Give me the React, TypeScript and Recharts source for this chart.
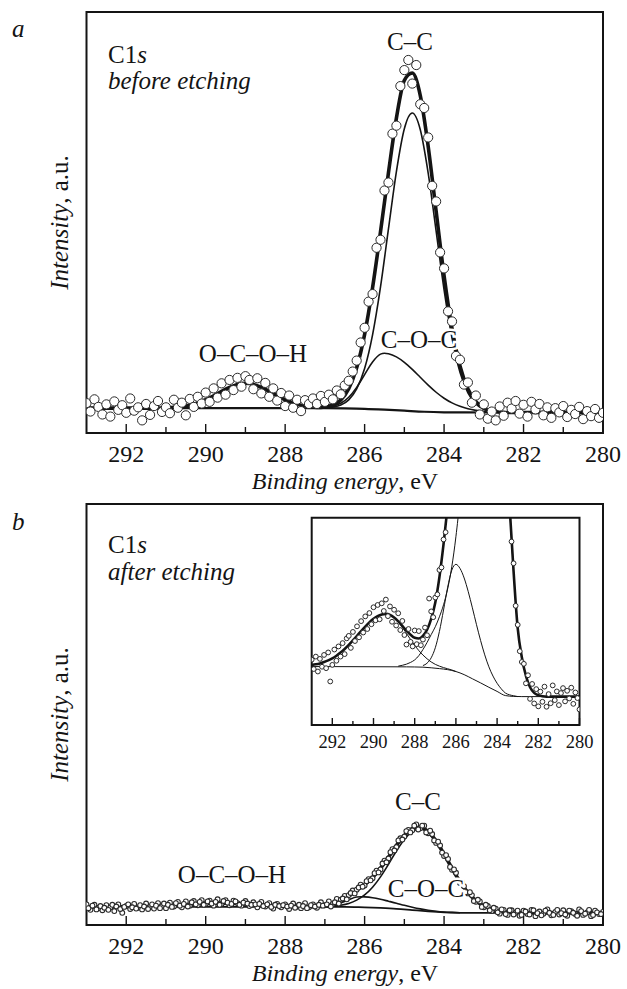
import React from 'react';
import { ComposedChart, Line, Scatter, XAxis, YAxis, ReferenceArea } from 'recharts';

const FONT = '"Liberation Serif","Times New Roman",Times,serif';
const INK = '#141414';

// ---------- axis ticks (binding energy, eV) ----------
const energyTicks = [280, 281, 282, 283, 284, 285, 286, 287, 288, 289, 290, 291, 292];
const energyDomain = [280, 293];

// ---------- shared scan energies (0.1 eV step) ----------
const scanEnergies = [
  293.0, 292.9, 292.8, 292.7, 292.6, 292.5, 292.4, 292.3, 292.2, 292.1,
  292.0, 291.9, 291.8, 291.7, 291.6, 291.5, 291.4, 291.3, 291.2, 291.1,
  291.0, 290.9, 290.8, 290.7, 290.6, 290.5, 290.4, 290.3, 290.2, 290.1,
  290.0, 289.9, 289.8, 289.7, 289.6, 289.5, 289.4, 289.3, 289.2, 289.1,
  289.0, 288.9, 288.8, 288.7, 288.6, 288.5, 288.4, 288.3, 288.2, 288.1,
  288.0, 287.9, 287.8, 287.7, 287.6, 287.5, 287.4, 287.3, 287.2, 287.1,
  287.0, 286.9, 286.8, 286.7, 286.6, 286.5, 286.4, 286.3, 286.2, 286.1,
  286.0, 285.9, 285.8, 285.7, 285.6, 285.5, 285.4, 285.3, 285.2, 285.1,
  285.0, 284.9, 284.8, 284.7, 284.6, 284.5, 284.4, 284.3, 284.2, 284.1,
  284.0, 283.9, 283.8, 283.7, 283.6, 283.5, 283.4, 283.3, 283.2, 283.1,
  283.0, 282.9, 282.8, 282.7, 282.6, 282.5, 282.4, 282.3, 282.2, 282.1,
  282.0, 281.9, 281.8, 281.7, 281.6, 281.5, 281.4, 281.3, 281.2, 281.1,
  281.0, 280.9, 280.8, 280.7, 280.6, 280.5, 280.4, 280.3, 280.2, 280.1,
  280.0,
];
// in-between scan energies used by the dense panel-b scan
const midEnergies = [
  292.95, 292.85, 292.75, 292.65, 292.55, 292.45, 292.35, 292.25, 292.15, 292.05,
  291.95, 291.85, 291.75, 291.65, 291.55, 291.45, 291.35, 291.25, 291.15, 291.05,
  290.95, 290.85, 290.75, 290.65, 290.55, 290.45, 290.35, 290.25, 290.15, 290.05,
  289.95, 289.85, 289.75, 289.65, 289.55, 289.45, 289.35, 289.25, 289.15, 289.05,
  288.95, 288.85, 288.75, 288.65, 288.55, 288.45, 288.35, 288.25, 288.15, 288.05,
  287.95, 287.85, 287.75, 287.65, 287.55, 287.45, 287.35, 287.25, 287.15, 287.05,
  286.95, 286.85, 286.75, 286.65, 286.55, 286.45, 286.35, 286.25, 286.15, 286.05,
  285.95, 285.85, 285.75, 285.65, 285.55, 285.45, 285.35, 285.25, 285.15, 285.05,
  284.95, 284.85, 284.75, 284.65, 284.55, 284.45, 284.35, 284.25, 284.15, 284.05,
  283.95, 283.85, 283.75, 283.65, 283.55, 283.45, 283.35, 283.25, 283.15, 283.05,
  282.95, 282.85, 282.75, 282.65, 282.55, 282.45, 282.35, 282.25, 282.15, 282.05,
  281.95, 281.85, 281.75, 281.65, 281.55, 281.45, 281.35, 281.25, 281.15, 281.05,
  280.95, 280.85, 280.75, 280.65, 280.55, 280.45, 280.35, 280.25, 280.15, 280.05,
];

// ---------- panel a: before etching ----------
const aScanValues = [
  7.1, 5.1, 8.0, 6.2, 4.4, 6.8, 3.9, 7.5, 5.5, 6.6,
  4.8, 8.2, 5.3, 6.1, 3.0, 6.9, 4.3, 6.4, 7.6, 5.0,
  6.1, 4.7, 7.9, 6.0, 7.2, 4.2, 8.1, 6.2, 8.6, 7.0,
  9.6, 7.4, 10.6, 8.4, 11.8, 9.1, 12.6, 10.2, 13.1, 11.0,
  13.5, 12.6, 10.4, 13.0, 9.4, 11.9, 8.6, 10.6, 7.7, 9.5,
  6.4, 8.9, 6.0, 7.9, 5.2, 7.8, 6.9, 8.2, 6.9, 8.8,
  7.4, 9.1, 8.0, 10.1, 9.2, 11.3, 12.4, 14.6, 17.2, 21.5,
  25.0, 31.2, 33.0, 44.0, 45.9, 57.6, 59.5, 71.1, 73.0, 82.4,
  86.2, 88.6, 83.0, 87.4, 78.1, 77.2, 70.2, 58.7, 55.0, 42.9,
  39.1, 28.9, 26.5, 18.3, 17.4, 11.5, 12.0, 7.2, 8.9, 4.4,
  6.8, 3.4, 5.1, 3.0, 6.3, 4.1, 7.2, 5.8, 7.6, 4.6,
  6.7, 3.9, 7.4, 5.6, 6.9, 4.2, 6.1, 3.6, 5.9, 4.9,
  6.4, 3.8, 5.5, 4.5, 6.2, 3.3, 5.2, 4.0, 5.7, 3.6,
  4.8,
];
const aEnvelope = [
  [293.0, 5.9], [291.2, 5.9], [291.0, 5.98], [290.8, 6.08], [290.6, 6.27], [290.4, 6.61], [290.2, 7.14],
  [290.0, 7.9], [289.8, 8.85], [289.6, 9.9], [289.4, 10.86], [289.2, 11.55], [289.0, 11.8], [288.8, 11.55],
  [288.6, 10.86], [288.4, 9.9], [288.2, 8.85], [288.0, 7.9], [287.8, 7.14], [287.6, 6.61], [287.4, 6.27],
  [287.2, 6.08], [287.0, 6.21], [286.8, 6.65], [286.6, 7.83], [286.4, 10.53], [286.2, 15.5], [286.0, 23.44],
  [285.8, 34.5], [285.6, 47.83], [285.4, 61.8], [285.2, 74.79], [285.0, 83.76], [284.8, 85.5], [284.6, 80.21],
  [284.4, 68.08], [284.2, 52.66], [284.0, 37.36], [283.8, 24.78], [283.6, 15.9], [283.4, 10.43], [283.2, 7.43],
  [283.0, 5.92], [282.8, 5.29], [282.6, 5.0], [282.4, 4.86], [280.0, 4.85],
];
const aBackground = [
  [293.0, 5.9], [287.0, 5.9], [286.5, 5.85], [286.0, 5.75], [285.5, 5.55], [285.0, 5.3], [284.5, 5.05],
  [284.0, 4.92], [283.5, 4.88], [280.0, 4.85],
];
const aOCOH = [
  [291.2, 5.92], [291.0, 5.98], [290.8, 6.08], [290.6, 6.27], [290.4, 6.61], [290.2, 7.14], [290.0, 7.9],
  [289.8, 8.85], [289.6, 9.9], [289.4, 10.86], [289.2, 11.55], [289.0, 11.8], [288.8, 11.55], [288.6, 10.86],
  [288.4, 9.9], [288.2, 8.85], [288.0, 7.9], [287.8, 7.14], [287.6, 6.61], [287.4, 6.27], [287.2, 6.08],
  [287.0, 5.98], [286.8, 5.92],
];
const aCOC = [
  [287.0, 6.05], [286.8, 6.34], [286.6, 7.05], [286.4, 8.48], [286.2, 10.83], [286.0, 13.88], [285.8, 16.87],
  [285.6, 18.73], [285.5, 18.95], [285.4, 18.82], [285.2, 18.08], [285.0, 16.78], [284.8, 15.1], [284.6, 13.23],
  [284.4, 11.37], [284.2, 9.68], [284.0, 8.26], [283.8, 7.15], [283.6, 6.34], [283.4, 5.76], [283.2, 5.38],
  [283.0, 5.14], [282.8, 5.01], [282.6, 4.92], [282.4, 4.87],
];
const aCC = [
  [287.0, 5.98], [286.8, 6.16], [286.6, 6.64], [286.4, 7.88], [286.2, 10.47], [286.0, 15.31], [285.8, 23.31],
  [285.6, 34.7], [285.4, 48.48], [285.2, 62.11], [285.0, 72.28], [284.8, 76.0], [284.6, 72.08], [284.4, 61.73],
  [284.2, 47.94], [284.0, 34.02], [283.8, 22.53], [283.6, 14.45], [283.4, 9.55], [283.2, 6.92], [283.0, 5.64],
  [282.8, 5.14], [282.6, 4.93],
];

// ---------- panel b: after etching ----------
const bScanValues = [
  4.9, 3.6, 4.8, 4.0, 3.5, 4.7, 4.2, 3.3, 4.9, 2.9,
  4.5, 3.8, 5.0, 4.1, 3.7, 5.1, 4.3, 3.9, 5.2, 4.5,
  4.0, 5.3, 4.4, 5.5, 4.2, 5.6, 4.6, 5.7, 4.7, 5.9,
  5.0, 5.8, 4.6, 6.1, 5.0, 5.9, 4.7, 5.8, 5.2, 4.6,
  5.7, 4.5, 5.4, 4.2, 5.5, 4.4, 5.2, 3.9, 5.0, 4.2,
  4.9, 3.8, 5.1, 4.4, 4.0, 5.2, 4.2, 4.9, 4.1, 5.4,
  4.7, 5.6, 5.0, 6.2, 6.0, 6.9, 7.1, 8.2, 8.4, 9.6,
  9.4, 10.9, 11.1, 12.9, 13.2, 15.3, 15.8, 18.0, 18.5, 20.6,
  21.0, 22.6, 22.5, 23.9, 23.0, 23.6, 21.8, 21.6, 19.5, 18.9,
  16.4, 15.7, 13.1, 12.4, 10.0, 9.2, 7.5, 7.1, 5.5, 5.6,
  4.2, 4.5, 3.3, 3.9, 2.7, 3.6, 2.4, 3.5, 2.9, 2.2,
  3.4, 2.6, 3.6, 2.1, 3.2, 2.7, 3.7, 2.3, 3.1, 2.5,
  3.5, 2.2, 3.3, 2.6, 3.7, 2.4, 3.0, 2.1, 3.4, 2.6,
  3.1,
];
const bScanMidValues = [
  4.0, 4.6, 3.7, 4.5, 4.1, 3.6, 4.8, 4.4, 3.8, 4.3,
  4.9, 4.2, 3.9, 4.7, 4.4, 3.8, 4.9, 4.6, 4.0, 5.1,
  4.8, 4.3, 5.2, 4.6, 5.0, 4.4, 5.4, 4.9, 5.5, 4.8,
  5.6, 5.1, 5.5, 4.8, 5.7, 5.3, 5.0, 5.6, 4.8, 5.3,
  5.1, 4.8, 4.9, 5.0, 4.5, 4.9, 4.3, 4.8, 4.5, 4.7,
  4.4, 4.6, 4.1, 4.8, 4.5, 4.0, 4.7, 4.4, 4.8, 4.6,
  4.9, 4.4, 5.4, 5.1, 6.3, 6.1, 7.6, 7.5, 8.9, 9.1,
  10.4, 10.6, 12.3, 12.5, 14.6, 14.9, 17.3, 17.7, 20.1, 20.3,
  22.3, 22.0, 23.6, 22.7, 23.6, 22.0, 22.4, 20.1, 19.8, 17.2,
  16.6, 13.8, 13.2, 10.6, 10.2, 7.8, 7.8, 5.7, 6.0, 4.3,
  4.8, 3.5, 4.1, 3.0, 3.7, 2.6, 3.5, 2.5, 3.4, 2.4,
  3.2, 2.5, 3.5, 2.8, 2.3, 3.4, 2.9, 2.4, 3.6, 2.8,
  2.5, 3.4, 2.9, 2.2, 3.3, 2.7, 3.6, 2.4, 3.0, 2.6,
];
const bEnvelope = [
  [293.0, 4.3], [292.6, 4.3], [292.2, 4.31], [291.8, 4.35], [291.4, 4.42], [291.0, 4.57], [290.6, 4.79],
  [290.2, 5.02], [289.8, 5.18], [289.4, 5.18], [289.0, 5.02], [288.6, 4.79], [288.2, 4.57], [287.8, 4.42],
  [287.4, 4.35], [287.0, 4.48], [286.8, 4.83], [286.6, 5.61], [286.4, 6.86], [286.2, 8.3], [286.0, 9.61],
  [285.8, 11.31], [285.6, 13.5], [285.4, 16.11], [285.2, 18.9], [285.0, 21.3], [284.8, 22.88], [284.6, 23.23],
  [284.4, 22.17], [284.2, 19.9], [284.0, 16.82], [283.8, 13.45], [283.6, 10.29], [283.4, 7.7], [283.2, 5.8],
  [283.0, 4.52], [282.8, 3.72], [282.6, 3.28], [282.4, 3.05], [282.2, 2.95], [282.0, 2.88], [280.0, 2.87],
];
const bBackground = [
  [293.0, 4.3], [286.5, 4.3], [286.2, 4.25], [286.0, 4.2], [285.6, 4.05], [285.2, 3.85], [284.8, 3.55],
  [284.4, 3.25], [284.0, 3.02], [283.6, 2.9], [283.2, 2.87], [280.0, 2.87],
];
const bOCOH = [
  [292.0, 4.32], [291.6, 4.38], [291.2, 4.49], [290.8, 4.67], [290.4, 4.91], [290.0, 5.12], [289.6, 5.2],
  [289.2, 5.12], [288.8, 4.91], [288.4, 4.67], [288.0, 4.49], [287.6, 4.38], [287.2, 4.33], [286.8, 4.3],
];
const bCOC = [
  [287.2, 4.32], [287.0, 4.39], [286.8, 4.64], [286.6, 5.2], [286.4, 6.01], [286.2, 6.65], [286.1, 6.72],
  [286.0, 6.68], [285.8, 6.48], [285.6, 6.11], [285.4, 5.65], [285.2, 5.18], [285.0, 4.67], [284.8, 4.22],
  [284.6, 3.83], [284.4, 3.51], [284.2, 3.27], [284.0, 3.1], [283.8, 2.99], [283.6, 2.9],
];
const bCC = [
  [287.0, 4.38], [286.8, 4.48], [286.6, 4.71], [286.4, 5.13], [286.2, 5.9], [286.0, 7.13], [285.8, 8.98],
  [285.6, 11.44], [285.4, 14.41], [285.2, 17.57], [285.0, 20.33], [284.8, 22.21], [284.6, 22.8], [284.4, 21.91],
  [284.2, 19.75], [284.0, 16.74], [283.8, 13.41], [283.6, 10.29], [283.4, 7.7], [283.2, 5.8], [283.0, 4.52],
  [282.8, 3.72], [282.6, 3.28], [282.4, 3.05], [282.2, 2.95],
];

// ---------- inset (magnified panel b) ----------
const iScan = [
  [293.0, 31.5], [292.9, 27.0], [292.8, 33.0], [292.7, 25.8], [292.6, 31.9], [292.5, 28.1], [292.4, 33.8],
  [292.3, 27.4], [292.2, 35.0], [292.1, 21.0], [292.0, 29.0], [291.9, 36.4], [291.8, 31.0], [291.7, 37.9],
  [291.6, 33.0], [291.5, 39.5], [291.4, 34.2], [291.3, 41.8], [291.2, 43.0], [291.1, 37.2], [291.0, 44.9],
  [290.9, 40.5], [290.8, 47.6], [290.7, 42.3], [290.6, 50.1], [290.5, 44.6], [290.4, 52.4], [290.3, 46.3],
  [290.2, 54.0], [290.1, 48.6], [290.0, 56.8], [289.9, 50.5], [289.8, 57.9], [289.7, 51.0], [289.6, 58.7],
  [289.5, 55.0], [289.4, 60.5], [289.3, 52.5], [289.2, 57.2], [289.1, 49.8], [289.0, 55.6], [288.9, 48.0],
  [288.8, 53.9], [288.7, 45.8], [288.6, 50.2], [288.5, 43.4], [288.4, 38.8], [288.3, 46.3], [288.2, 40.1],
  [288.1, 37.9], [288.0, 45.6], [287.9, 39.0], [287.8, 45.3], [287.7, 38.5], [287.6, 41.2], [287.5, 47.0],
  [287.4, 43.3], [287.3, 61.0], [287.2, 54.8], [287.1, 52.0], [287.0, 61.5], [286.9, 63.0], [286.8, 74.8],
  [286.7, 76.0], [286.6, 89.5], [286.5, 93.0],
  [283.3, 88.5], [283.2, 78.0], [283.1, 57.5], [283.0, 48.3], [282.9, 35.6], [282.8, 30.4], [282.7, 29.5],
  [282.6, 20.1], [282.5, 24.0], [282.4, 12.6], [282.3, 19.8], [282.2, 10.4], [282.1, 17.3], [282.0, 9.0],
  [281.9, 16.1], [281.8, 11.2], [281.7, 18.5], [281.6, 8.8], [281.5, 14.9], [281.4, 10.5], [281.3, 19.1],
  [281.2, 12.0], [281.1, 16.2], [281.0, 9.6], [280.9, 15.4], [280.8, 17.8], [280.7, 11.4], [280.6, 16.5],
  [280.5, 12.8], [280.4, 18.0], [280.3, 10.2], [280.2, 15.7], [280.1, 13.0], [280.0, 7.5],
];
const iEnvelope = [
  [293.0, 28.94], [292.8, 29.27], [292.6, 29.72], [292.4, 30.36], [292.2, 31.15], [292.0, 32.16], [291.8, 33.43],
  [291.6, 34.93], [291.4, 36.68], [291.2, 38.64], [291.0, 40.8], [290.8, 43.03], [290.6, 45.32], [290.4, 47.5],
  [290.2, 49.51], [290.0, 51.21], [289.8, 52.51], [289.6, 53.32], [289.4, 53.6], [289.2, 53.14], [289.0, 51.82],
  [288.8, 49.96], [288.6, 47.8], [288.4, 45.48], [288.2, 43.53], [288.0, 42.04], [287.8, 41.7], [287.6, 43.02],
  [287.4, 45.96], [287.2, 51.23], [287.0, 59.12], [286.8, 71.33], [286.6, 87.23], [286.4, 105.8], [286.2, 124.9],
  [286.0, 142.5], [285.6, 210], [285.0, 378], [284.6, 534], [284.2, 350], [283.8, 187.5], [283.6, 143.4],
  [283.4, 106.6], [283.2, 74.1], [283.0, 46.7], [282.8, 32.7], [282.6, 23.7], [282.4, 18.2], [282.2, 15.5],
  [282.0, 14.4], [281.8, 13.9], [281.6, 13.7], [280.0, 13.7],
];
const iBackground = [
  [293.0, 28.2], [288.4, 28.05], [288.0, 28.0], [287.6, 27.9], [287.2, 27.6], [286.8, 27.2], [286.4, 26.7],
  [286.0, 25.8], [285.6, 24.3], [285.2, 22.3], [284.8, 20.3], [284.4, 18.2], [284.0, 16.2], [283.6, 14.2],
  [283.2, 13.8], [282.8, 13.7], [280.0, 13.7],
];
const iOCOH = [
  [293.0, 28.94], [292.8, 29.27], [292.6, 29.72], [292.4, 30.36], [292.2, 31.15], [292.0, 32.16], [291.8, 33.43],
  [291.6, 34.93], [291.4, 36.68], [291.2, 38.64], [291.0, 40.8], [290.8, 43.03], [290.6, 45.32], [290.4, 47.5],
  [290.2, 49.51], [290.0, 51.21], [289.8, 52.51], [289.6, 53.32], [289.4, 53.6], [289.2, 53.14], [289.0, 51.82],
  [288.8, 49.66], [288.6, 47.1], [288.4, 44.18], [288.2, 41.23], [288.0, 38.44], [287.8, 35.9], [287.6, 33.74],
  [287.4, 31.94], [287.2, 30.42], [287.0, 29.25], [286.8, 28.39], [286.6, 27.69], [286.4, 27.13], [286.2, 26.55],
  [286.0, 25.8],
];
const iCOC = [
  [287.6, 28.68], [287.4, 29.82], [287.2, 32.41], [287.0, 37.27], [286.8, 45.14], [286.6, 55.49], [286.4, 66.41],
  [286.2, 74.69], [286.0, 77.5], [285.8, 75.51], [285.6, 70.93], [285.4, 64.3], [285.2, 56.53], [285.0, 48.39],
  [284.8, 40.72], [284.6, 33.83], [284.4, 28.07], [284.2, 23.61], [284.0, 20.13], [283.8, 17.47], [283.6, 15.44],
  [283.4, 14.57], [283.2, 14.1], [283.0, 13.7],
];
const iCC = [
  [288.8, 28.4], [288.6, 28.8], [288.4, 29.35], [288.2, 30.2], [288.0, 31.4], [287.8, 33.45], [287.6, 36.4],
  [287.4, 39.8], [287.2, 43.6], [287.0, 47.4], [286.8, 52.2], [286.6, 57.95], [286.4, 65.7], [286.2, 76.3],
  [286.0, 90.8], [285.8, 110.1], [285.6, 139.3], [285.2, 252], [284.6, 519], [284.0, 236], [283.8, 185],
  [283.6, 142], [283.4, 106], [283.2, 73.8], [283.0, 46.7], [282.8, 32.7], [282.6, 23.7], [282.4, 18.2],
  [282.2, 15.5], [282.0, 14.4], [281.8, 13.9], [281.6, 13.7],
];

// ---------- helpers ----------
type Pair = number[];
type Pt = { x: number; y: number };
const toPts = (arr: Pair[]): Pt[] => arr.map(([x, y]) => ({ x, y }));
const zipPts = (xs: number[], ys: number[]): Pt[] => xs.map((x, i) => ({ x, y: ys[i] }));

function makeTick(major: number, minor: number, fontSize: number, labelDy: number) {
  return (props: any) => {
    const { x, y, payload } = props;
    const v = payload.value;
    const isMajor = v % 2 === 0;
    return (
      <g>
        <line x1={x} x2={x} y1={y} y2={y - (isMajor ? major : minor)} stroke={INK} strokeWidth={1.4} />
        {isMajor && (
          <text x={x} y={y + labelDy} textAnchor="middle" fontFamily={FONT} fontSize={fontSize} fill={INK}>
            {v}
          </text>
        )}
      </g>
    );
  };
}

type SeriesDef = { data: Pt[]; w: number };

function XpsChart(props: {
  width: number;
  height: number;
  margin: { top: number; right: number; bottom: number; left: number };
  axisHeight: number;
  scans: Pt[][];
  r: number;
  sw: number;
  series: SeriesDef[];
  tick: any;
  frameW: number;
  bg?: boolean;
}) {
  const { width, height, margin, axisHeight, scans, r, sw, series, tick, frameW, bg } = props;
  return (
    <ComposedChart width={width} height={height} margin={margin}>
      <XAxis
        dataKey="x"
        type="number"
        domain={energyDomain}
        reversed
        allowDataOverflow
        ticks={energyTicks}
        interval={0}
        tick={tick}
        tickLine={false}
        axisLine={false}
        tickSize={0}
        tickMargin={0}
        height={axisHeight}
      />
      <YAxis dataKey="y" type="number" domain={[0, 100]} allowDataOverflow hide width={0} />
      {bg && <ReferenceArea x1={293} x2={280} y1={0} y2={100} fill="#fff" fillOpacity={1} stroke="none" />}
      {scans.map((scan, i) => (
        <Scatter
          key={'s' + i}
          data={scan}
          dataKey="y"
          isAnimationActive={false}
          shape={(p: any) => <circle cx={p.cx} cy={p.cy} r={r} fill="#fff" stroke="#2a2a2a" strokeWidth={sw} />}
        />
      ))}
      {series.map((s, i) => (
        <Line
          key={'l' + i}
          data={s.data}
          dataKey="y"
          type="monotone"
          stroke={INK}
          strokeWidth={s.w}
          dot={false}
          activeDot={false}
          isAnimationActive={false}
        />
      ))}
      <ReferenceArea x1={293} x2={280} y1={0} y2={100} fill="none" stroke={INK} strokeWidth={frameW} />
    </ComposedChart>
  );
}

const mainTick = makeTick(9, 6, 24, 29);
const insetTick = makeTick(7, 4, 18.5, 23);

export default function App() {
  const textStyle = { fontFamily: FONT, fill: INK } as const;
  return (
    <div style={{ position: 'relative', width: 627, height: 989, background: '#fff', overflow: 'hidden' }}>
      <style>{`body{margin:0}`}</style>
      <div style={{ position: 'absolute', left: 0, top: 0 }}>
        <XpsChart
          width={627}
          height={470}
          margin={{ top: 12, right: 24, bottom: 0, left: 86.5 }}
          axisHeight={37}
          scans={[zipPts(scanEnergies, aScanValues)]}
          r={4.6}
          sw={1}
          tick={mainTick}
          frameW={2}
          series={[
            { data: toPts(aBackground), w: 2.2 },
            { data: toPts(aOCOH), w: 1.6 },
            { data: toPts(aCOC), w: 1.6 },
            { data: toPts(aCC), w: 1.6 },
            { data: toPts(aEnvelope), w: 3.6 },
          ]}
        />
      </div>
      <div style={{ position: 'absolute', left: 0, top: 492 }}>
        <XpsChart
          width={627}
          height={470}
          margin={{ top: 12, right: 24, bottom: 0, left: 86.5 }}
          axisHeight={37}
          scans={[zipPts(scanEnergies, bScanValues), zipPts(midEnergies, bScanMidValues)]}
          r={2.4}
          sw={1.1}
          tick={mainTick}
          frameW={2}
          series={[
            { data: toPts(bBackground), w: 1.8 },
            { data: toPts(bOCOH), w: 1.4 },
            { data: toPts(bCOC), w: 1.6 },
            { data: toPts(bCC), w: 1.6 },
            { data: toPts(bEnvelope), w: 3.6 },
          ]}
        />
      </div>
      <div style={{ position: 'absolute', left: 300, top: 505 }}>
        <XpsChart
          width={300}
          height={260}
          margin={{ top: 12.7, right: 20.5, bottom: 0, left: 11.7 }}
          axisHeight={40}
          scans={[toPts(iScan)]}
          r={2.4}
          sw={1}
          tick={insetTick}
          frameW={2}
          bg
          series={[
            { data: toPts(iBackground), w: 1 },
            { data: toPts(iOCOH), w: 1 },
            { data: toPts(iCOC), w: 1 },
            { data: toPts(iCC), w: 1 },
            { data: toPts(iEnvelope), w: 2.6 },
          ]}
        />
      </div>
      <svg
        width={627}
        height={989}
        style={{ position: 'absolute', left: 0, top: 0, pointerEvents: 'none' }}
      >
        <g fontFamily={FONT} fontSize={25} fill={INK}>
          {/* panel letters */}
          <text x={12} y={37} fontStyle="italic">a</text>
          <text x={12} y={530} fontStyle="italic">b</text>

          {/* panel a annotations */}
          <text x={108} y={63}>C1<tspan fontStyle="italic">s</tspan></text>
          <text x={108} y={89} fontStyle="italic">before etching</text>
          <text x={410} y={50} textAnchor="middle">C–C</text>
          <text x={253} y={362} textAnchor="middle">O–C–O–H</text>
          <text x={419} y={348} textAnchor="middle" stroke="#fff" strokeWidth={5} paintOrder="stroke" style={textStyle}>C–O–C</text>

          {/* panel b annotations */}
          <text x={108} y={553}>C1<tspan fontStyle="italic">s</tspan></text>
          <text x={108} y={580} fontStyle="italic">after etching</text>
          <text x={418} y={810} textAnchor="middle">C–C</text>
          <text x={232} y={883} textAnchor="middle">O–C–O–H</text>
          <text x={426} y={897} textAnchor="middle" stroke="#fff" strokeWidth={5} paintOrder="stroke" style={textStyle}>C–O–C</text>

          {/* axis titles */}
          <text x={345} y={489} textAnchor="middle" fontSize={24}>
            <tspan fontStyle="italic">Binding energy</tspan>, eV
          </text>
          <text x={345} y={981} textAnchor="middle" fontSize={24}>
            <tspan fontStyle="italic">Binding energy</tspan>, eV
          </text>
          <text x={68} y={222.5} textAnchor="middle" transform="rotate(-90 68 222.5)">
            <tspan fontStyle="italic">Intensity</tspan>, a.u.
          </text>
          <text x={68} y={714.5} textAnchor="middle" transform="rotate(-90 68 714.5)">
            <tspan fontStyle="italic">Intensity</tspan>, a.u.
          </text>
        </g>
      </svg>
    </div>
  );
}
